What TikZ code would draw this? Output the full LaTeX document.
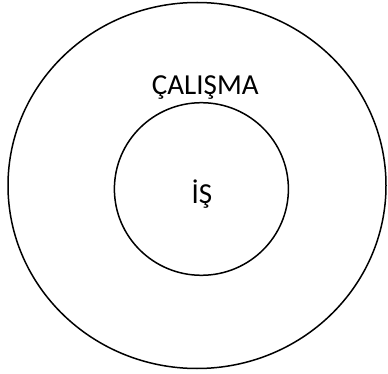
\documentclass[tikz,border=0pt]{standalone}
\usepackage{fontspec}
\setmainfont{Carlito}
\usetikzlibrary{calc,positioning}

\begin{document}
\begin{tikzpicture}[x=1pt,y=-1pt,
	ring/.style={draw=black, line width=1.5pt},
	label/.style={font=\fontsize{29}{32}\selectfont, anchor=base, inner sep=0pt}]

	%% frame of the picture (y grows downwards)
	\useasboundingbox (0,0) rectangle (388,374);

	%% centres of the two rings
	\coordinate (O1) at (197,185.5); % outer centre
	\coordinate (O2) at (201.4,189); % inner centre

	% outer ring
	\draw[ring] (O1) ellipse [x radius=189, y radius=183];
	% inner ring
	\draw[ring] (O2) ellipse [x radius=87, y radius=86.3];

	%% texts
	\node[label] (calisma) at (205.3,94.5) {ÇALIŞMA};
	\node[label] (is) at (202,203.5) {İŞ};
\end{tikzpicture}
\end{document}
